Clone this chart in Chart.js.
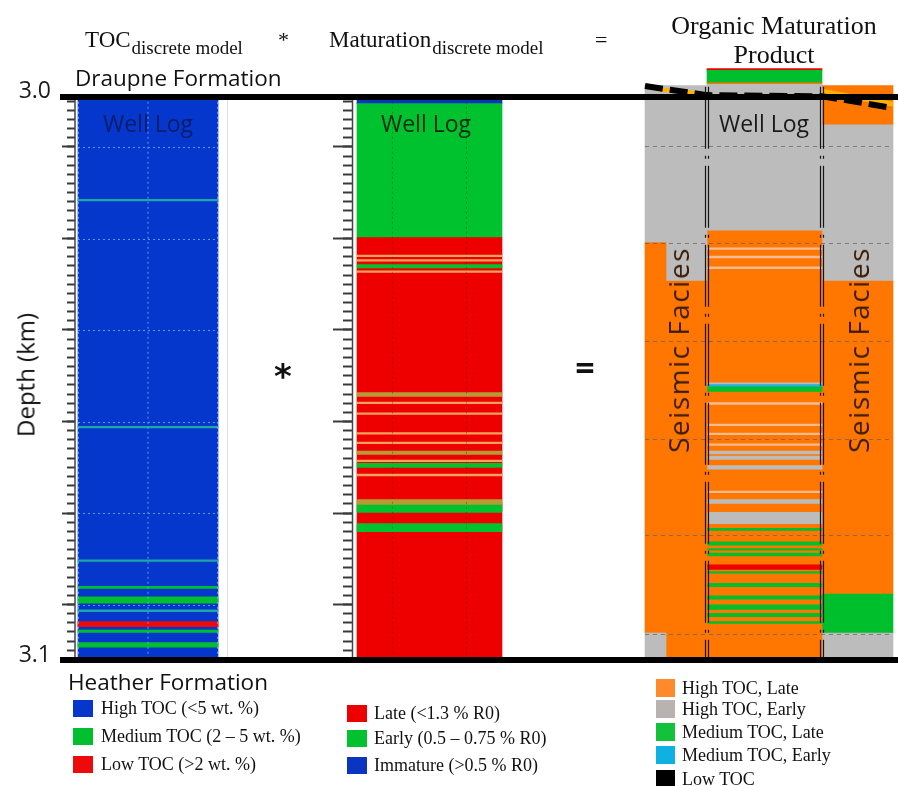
<!DOCTYPE html>
<html>
<head>
<meta charset="utf-8">
<title>Organic maturation product</title>
<script src="https://cdn.jsdelivr.net/npm/chart.js@4.4.1/dist/chart.umd.min.js"></script>
<style>
  html, body { margin: 0; padding: 0; background: #fff; }
  #fig { position: relative; width: 898px; height: 786px; overflow: hidden; }
  #fig canvas { position: absolute; left: 0; top: 0; }
  .lbl { position: absolute; white-space: nowrap; }
  .sw { position: absolute; }
</style>
</head>
<body>
<div id="fig"><canvas id="c" width="898" height="786"></canvas></div>
<script>
// ---------- depth intervals in km: [top, base, class] ----------
// TOC discrete model (H high, M medium, L low, m thin medium bed)
const tocBands = [
  [3.0000, 3.1000, 'H'],
  [3.0182, 3.0185, 'm'],
  [3.0585, 3.0588, 'm'],
  [3.0822, 3.0825, 'm'],
  [3.0869, 3.0873, 'M'],
  [3.0888, 3.0899, 'M'],
  [3.0911, 3.0914, 'm'],
  [3.0932, 3.0941, 'L'],
  [3.0947, 3.0951, 'M'],
  [3.0969, 3.0977, 'M']
];

// Maturation discrete model (I immature, E early, L late, o thin early bed, x mixed bed)
const maturationBands = [
  [3.0000, 3.0012, 'I'],
  [3.0012, 3.0250, 'E'],
  [3.0250, 3.1000, 'L'],
  [3.0281, 3.0284, 'o'],
  [3.0289, 3.0292, 'o'],
  [3.0298, 3.0304, 'E'],
  [3.0309, 3.0312, 'o'],
  [3.0525, 3.0532, 'x'],
  [3.0542, 3.0545, 'o'],
  [3.0561, 3.0564, 'o'],
  [3.0596, 3.0599, 'o'],
  [3.0613, 3.0616, 'o'],
  [3.0629, 3.0635, 'x'],
  [3.0645, 3.0648, 'o'],
  [3.0651, 3.0658, 'E'],
  [3.0670, 3.0673, 'o'],
  [3.0715, 3.0724, 'x'],
  [3.0725, 3.0738, 'E'],
  [3.0758, 3.0772, 'E']
];

// Organic maturation product along the well
const productWellBands = [
  [2.9950, 2.9953, 'R'],
  [2.9953, 2.9975, 'ML'],
  [2.9975, 2.9978, 'HL'],
  [2.9978, 3.0238, 'HE'],
  [3.0238, 3.1000, 'HL'],
  [3.0268, 3.0271, 'hl'],
  [3.0283, 3.0286, 'hl'],
  [3.0302, 3.0305, 'hl'],
  [3.0508, 3.0511, 'HE'],
  [3.0511, 3.0515, 'ME'],
  [3.0515, 3.0523, 'ML'],
  [3.0543, 3.0546, 'hl'],
  [3.0581, 3.0584, 'hl'],
  [3.0597, 3.0600, 'hl'],
  [3.0616, 3.0619, 'hl'],
  [3.0629, 3.0634, 'HE'],
  [3.0638, 3.0644, 'HE'],
  [3.0655, 3.0661, 'HE'],
  [3.0700, 3.0703, 'hl'],
  [3.0715, 3.0722, 'HE'],
  [3.0738, 3.0758, 'HE'],
  [3.0766, 3.0770, 'ML'],
  [3.0790, 3.0796, 'ML'],
  [3.0802, 3.0805, 'ML'],
  [3.0810, 3.0815, 'ML'],
  [3.0831, 3.0839, 'R'],
  [3.0843, 3.0846, 'ML'],
  [3.0864, 3.0870, 'ML'],
  [3.0886, 3.0892, 'ML'],
  [3.0902, 3.0910, 'ML'],
  [3.0917, 3.0923, 'ML'],
  [3.0932, 3.0935, 'ML']
];

// Product from seismic facies, either side of the well
const faciesLeftOuterBands = [
  [2.9980, 3.0259, 'HE'],
  [3.0259, 3.0952, 'HL'],
  [3.0952, 3.1000, 'HE']
];
const faciesLeftInnerBands = [
  [2.9980, 3.0327, 'HE'],
  [3.0327, 3.1000, 'HL']
];
const faciesRightBands = [
  [2.9980, 3.0050, 'HL'],
  [3.0050, 3.0327, 'HE'],
  [3.0327, 3.0883, 'HL'],
  [3.0883, 3.0952, 'ML'],
  [3.0952, 3.1000, 'HE']
];

// Top Draupne horizon pick across the seismic panel, km
const horizonDepths = [2.9981, 2.9997, 2.9999, 3.0020];
const horizonHaloLeft = [2.9986, 2.9995];
const horizonHaloRight = [2.9990, 3.0013];

// Axis ticks, km
const depthLabels = [3.0, 3.1];
const logMajorTicks = [3.0089, 3.0252, 3.0414, 3.0577, 3.0739, 3.0902];
const logMinorStep = 0.001625;
const productGrid = [3.0087, 3.0259, 3.0434, 3.0608, 3.0778, 3.0954];

// Legends
const tocLegend = ['High TOC (<5 wt. %)', 'Medium TOC (2 \u2013 5 wt. %)', 'Low TOC (>2 wt. %)'];
const tocLegendClasses = ['H', 'M', 'L'];
const matLegend = ['Late (<1.3 % R0)', 'Early (0.5 \u2013 0.75 % R0)', 'Immature (>0.5 % R0)'];
const matLegendClasses = ['L', 'E', 'I'];
const productLegend = ['High TOC, Late', 'High TOC, Early', 'Medium TOC, Late', 'Medium TOC, Early', 'Low TOC'];
const productLegendClasses = ['HL', 'HE', 'ML', 'ME', 'LT'];

// ---------- styles ----------
const TOC_COLORS = { H: '#0537cc', M: '#00bf2e', L: '#ee0a0a', m: '#1fa6a8' };
const MAT_COLORS = { I: '#0a35c0', E: '#00c12e', L: '#ee0000', o: '#f3a35a', x: '#b69a34' };
const PRODUCT_COLORS = { HL: '#ff7700', HE: '#bcbcbc', ML: '#00bf2c', ME: '#21b1e6', LT: '#000000', R: '#f00000', hl: '#f6bb94' };
const LEGEND_PRODUCT_COLORS = { HL: '#ff8a2c', HE: '#b8b3b1', ML: '#12c23a', ME: '#0fb1e2', LT: '#000000' };

const SERIF = '"Liberation Serif", "Times New Roman", serif';
const SANS = '"Open Sans", "Liberation Sans", sans-serif';

// horizontal placement of the tracks (canvas px, the x scale runs 1:1)
const TRACK = {
  toc: [78, 218], mat: [357, 502],
  facLA: [645, 666], facLB: [666, 707], well: [707, 822], facR: [822, 893]
};
const mid = t => (t[0] + t[1]) / 2;
const Y_MIN = 2.994, Y_MAX = 3.1;

const logMinorTicks = [];
for (let v = logMajorTicks[0]; v >= 3.0; v -= logMinorStep) logMinorTicks.unshift(v);
for (let v = logMajorTicks[0] + logMinorStep; v <= Y_MAX; v += logMinorStep) logMinorTicks.push(v);

function bandDataset(label, bands, track, colors) {
  return {
    type: 'bar', label,
    data: bands.map(b => ({ x: mid(track), y: [b[0], b[1]] })),
    backgroundColor: bands.map(b => colors[b[2]]),
    borderWidth: 0, barThickness: track[1] - track[0], grouped: false,
    xAxisID: 'x', yAxisID: 'y', order: 1
  };
}
function lineDataset(label, xs, depths, color, width, dash, order) {
  return {
    type: 'line', label,
    data: depths.map((d, i) => ({ x: xs[i], y: d })),
    borderColor: color, borderWidth: width, borderDash: dash,
    pointRadius: 0, fill: false, tension: 0, order,
    xAxisID: 'x', yAxisID: 'y'
  };
}
function tickAxis(xPos, values, len) {
  return {
    axis: 'y', type: 'linear', reverse: true, min: Y_MIN, max: Y_MAX,
    position: { x: xPos },
    afterBuildTicks(s) { s.ticks = values.map(v => ({ value: v })); },
    ticks: { display: false },
    grid: { drawOnChartArea: false, drawTicks: true, tickLength: len, tickColor: '#3a3a3a', tickWidth: 2 },
    border: { display: false }
  };
}

// dotted reference grids, well-log frames and axis spines
const trackOverlay = {
  id: 'trackOverlay',
  afterDatasetsDraw(chart) {
    const { ctx, scales: { x, y } } = chart;
    const X = v => x.getPixelForValue(v), Y = v => y.getPixelForValue(v);
    const seg = (x1, y1, x2, y2) => { ctx.beginPath(); ctx.moveTo(x1, y1); ctx.lineTo(x2, y2); ctx.stroke(); };
    ctx.save();
    ctx.lineWidth = 1;

    // TOC log grid
    ctx.setLineDash([2, 3]);
    ctx.strokeStyle = 'rgba(110,170,255,0.85)';
    logMajorTicks.forEach(d => seg(X(TRACK.toc[0]), Math.round(Y(d)) + 0.5, X(TRACK.toc[1]), Math.round(Y(d)) + 0.5));
    [TRACK.toc[0] + 0.5, mid(TRACK.toc), TRACK.toc[1] - 0.5].forEach(v => seg(X(v), Y(3.0), X(v), Y(3.1)));

    // maturation log grid
    ctx.strokeStyle = 'rgba(0,60,0,0.35)';
    [0.24, 0.755].forEach(f => {
      const v = TRACK.mat[0] + f * (TRACK.mat[1] - TRACK.mat[0]);
      seg(Math.round(X(v)) + 0.5, Y(3.0), Math.round(X(v)) + 0.5, Y(3.1));
    });

    // product panel grid
    ctx.setLineDash([4, 4]);
    ctx.strokeStyle = 'rgba(95,95,95,0.7)';
    productGrid.forEach(d => seg(X(TRACK.facLA[0]), Math.round(Y(d)) + 0.5, X(TRACK.facR[1]), Math.round(Y(d)) + 0.5));

    // well track boundaries in the product panel
    ctx.setLineDash([62, 7, 3, 7]);
    ctx.strokeStyle = '#151515';
    ctx.lineWidth = 1.2;
    [TRACK.well[0], TRACK.well[1]].forEach(v => {
      seg(X(v) - 1.5, Y(2.9982), X(v) - 1.5, Y(3.1));
      seg(X(v) + 1.5, Y(2.9982), X(v) + 1.5, Y(3.1));
    });

    // faint frame right of the TOC log
    ctx.setLineDash([]);
    ctx.lineWidth = 1;
    ctx.strokeStyle = 'rgba(0,0,0,0.13)';
    seg(X(227) + 0.5, Y(3.0), X(227) + 0.5, Y(3.1));

    // tick-axis spines
    ctx.strokeStyle = '#444';
    ctx.lineWidth = 1.5;
    seg(X(75), Y(3.0), X(75), Y(3.1));
    seg(X(352.5), Y(3.0), X(352.5), Y(3.1));
    ctx.restore();
  }
};

const horizonX = [TRACK.facLA[0], TRACK.facLB[1], TRACK.well[1], TRACK.facR[1]];

new Chart(document.getElementById('c'), {
  type: 'bar',
  data: {
    datasets: [
      lineDataset('Top Draupne pick', horizonX, horizonDepths, '#000', 6, [18, 7], -2),
      lineDataset('Pick halo W', [TRACK.facLA[0] + 10, TRACK.facLB[1]], horizonHaloLeft, '#ffb300', 4, [], -1),
      lineDataset('Pick halo E', [TRACK.facR[0], TRACK.facR[1]], horizonHaloRight, '#ffb300', 5, [], -1),
      bandDataset('TOC discrete model', tocBands, TRACK.toc, TOC_COLORS),
      bandDataset('Maturation discrete model', maturationBands, TRACK.mat, MAT_COLORS),
      bandDataset('Seismic facies W (outer)', faciesLeftOuterBands, TRACK.facLA, PRODUCT_COLORS),
      bandDataset('Seismic facies W (inner)', faciesLeftInnerBands, TRACK.facLB, PRODUCT_COLORS),
      bandDataset('Well log product', productWellBands, TRACK.well, PRODUCT_COLORS),
      bandDataset('Seismic facies E', faciesRightBands, TRACK.facR, PRODUCT_COLORS)
    ]
  },
  options: {
    responsive: false, animation: false, devicePixelRatio: 1, events: [],
    layout: { padding: { top: 63, bottom: 126, left: 0, right: 0 } },
    plugins: { legend: { display: false }, tooltip: { enabled: false } },
    scales: {
      x: { type: 'linear', min: 60, max: 898, offset: false, grid: { offset: false }, display: false },
      y: {
        type: 'linear', reverse: true, min: Y_MIN, max: Y_MAX, position: 'left',
        afterFit(s) { s.width = 60; },
        afterBuildTicks(s) { s.ticks = depthLabels.map(v => ({ value: v })); },
        ticks: {
          callback: v => v.toFixed(1), autoSkip: false,
          font: { family: SANS, size: 23 }, color: '#1a1a1a', padding: 9, labelOffset: -5
        },
        grid: { color: '#000', lineWidth: 6, drawTicks: false, z: 1 },
        border: { display: false }
      },
      yTocMinor: tickAxis(75, logMinorTicks, 8),
      yTocMajor: tickAxis(75, logMajorTicks, 13),
      yMatMinor: tickAxis(352.5, logMinorTicks, 10),
      yMatMajor: tickAxis(352.5, logMajorTicks, 20)
    }
  },
  plugins: [trackOverlay]
});

// ---------- titles, labels and legends ----------
const fig = document.getElementById('fig');
const mctx = document.createElement('canvas').getContext('2d');
function text(str, o) {
  const el = document.createElement('div');
  el.className = 'lbl';
  el.textContent = str;
  const f = `${o.weight || 'normal'} ${o.size}px ${o.family}`;
  el.style.font = f;
  el.style.lineHeight = 'normal';
  el.style.color = o.color || '#111';
  if (o.spacing) el.style.letterSpacing = o.spacing + 'px';
  mctx.font = f;
  const m = mctx.measureText(str);
  const w = m.width + (o.spacing || 0) * str.length;
  if (o.rotate) {
    el.style.left = o.x + 'px';
    el.style.top = o.y + 'px';
    el.style.transform = `translate(-50%,-50%) rotate(${o.rotate}deg)`;
  } else {
    el.style.left = (o.align === 'center' ? o.x - w / 2 : o.x) + 'px';
    el.style.top = (o.baseline - m.fontBoundingBoxAscent) + 'px';
  }
  fig.appendChild(el);
  return w;
}
function swatch(x, yc, w, h, color) {
  const el = document.createElement('div');
  el.className = 'sw';
  Object.assign(el.style, { left: x + 'px', top: (yc - h / 2) + 'px', width: w + 'px', height: h + 'px', background: color });
  fig.appendChild(el);
}

// equation header
let w = text('TOC', { x: 85, baseline: 47, size: 23, family: SERIF });
text('discrete model', { x: 85 + w + 1, baseline: 54, size: 19, family: SERIF });
text('*', { x: 278, baseline: 47, size: 22, family: SERIF });
w = text('Maturation', { x: 329, baseline: 47, size: 23, family: SERIF });
text('discrete model', { x: 329 + w + 1, baseline: 54, size: 19, family: SERIF });
text('=', { x: 595, baseline: 47, size: 22, family: SERIF });
text('Organic Maturation', { x: 774, baseline: 34, size: 26, family: SERIF, align: 'center' });
text('Product', { x: 774, baseline: 63, size: 26, family: SERIF, align: 'center' });

// formations and axis title
text('Draupne Formation', { x: 75, baseline: 86, size: 22.5, family: SANS });
text('Heather Formation', { x: 68, baseline: 690, size: 22.5, family: SANS });
text('Depth (km)', { x: 25, y: 375, size: 24, family: SANS, rotate: -90 });

// operators between the logs
text('*', { x: 283, baseline: 388, size: 34, family: '"DejaVu Sans", sans-serif', weight: 'bold', align: 'center' });
text('=', { x: 585, baseline: 380, size: 34, family: SANS, weight: 'bold', align: 'center' });

// track captions
text('Well Log', { x: mid(TRACK.toc), baseline: 132, size: 23, family: SANS, color: '#0c1c68', align: 'center' });
text('Well Log', { x: 426, baseline: 132, size: 23, family: SANS, color: '#0b2a0b', align: 'center' });
text('Well Log', { x: 764, baseline: 132, size: 23, family: SANS, color: '#1a1a1a', align: 'center' });
text('Seismic Facies', { x: 678, y: 350, size: 28, family: SANS, rotate: -90, spacing: 1.5, color: '#3b1c06' });
text('Seismic Facies', { x: 858, y: 350, size: 28, family: SANS, rotate: -90, spacing: 1.5, color: '#3b1c06' });

// legends
const tocRows = [708.5, 736.5, 764.5];
tocLegend.forEach((s, i) => {
  swatch(73, tocRows[i], 20, 17, TOC_COLORS[tocLegendClasses[i]]);
  text(s, { x: 101, baseline: tocRows[i] + 5, size: 18, family: SERIF });
});
const matRows = [713, 738.5, 765];
matLegend.forEach((s, i) => {
  swatch(347, matRows[i], 20, 17, MAT_COLORS[matLegendClasses[i]]);
  text(s, { x: 374, baseline: matRows[i] + 5.5, size: 18, family: SERIF });
});
const productRows = [688, 708.5, 732, 755, 779];
productLegend.forEach((s, i) => {
  swatch(656, productRows[i], 19, 18, LEGEND_PRODUCT_COLORS[productLegendClasses[i]]);
  text(s, { x: 682, baseline: productRows[i] + 6, size: 18, family: SERIF });
});
</script>
</body>
</html>
